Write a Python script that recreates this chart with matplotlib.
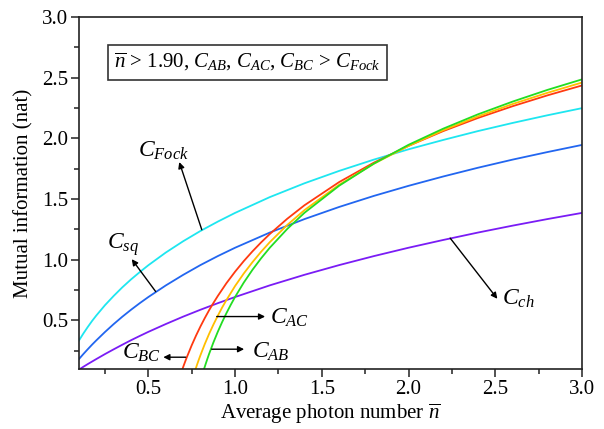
import matplotlib
matplotlib.use("Agg")
import matplotlib.pyplot as plt
from matplotlib.ticker import MultipleLocator

plt.rcParams['font.family'] = ['Liberation Serif', 'DejaVu Serif']
plt.rcParams['mathtext.fontset'] = 'custom'
plt.rcParams['mathtext.rm'] = 'Liberation Serif'
plt.rcParams['mathtext.it'] = 'Liberation Serif:italic'

# average photon number grid for the three two-mode curves
n_grid = [0.1, 0.125, 0.15, 0.175, 0.2, 0.25, 0.3, 0.35, 0.4, 0.45, 0.5, 0.6, 0.7,
          0.8, 0.9, 1.0, 1.2, 1.4, 1.6, 1.8, 2.0, 2.2, 2.4, 2.6, 2.8, 3.0]
c_fock = [0.335, 0.392, 0.445, 0.495, 0.541, 0.626, 0.702, 0.773, 0.838, 0.898,
          0.955, 1.059, 1.152, 1.237, 1.314, 1.386, 1.516, 1.630, 1.732, 1.825,
          1.910, 1.987, 2.060, 2.127, 2.190, 2.249]
c_sq = [0.182, 0.223, 0.262, 0.300, 0.336, 0.405, 0.470, 0.531, 0.588, 0.642,
        0.693, 0.788, 0.875, 0.956, 1.030, 1.099, 1.224, 1.335, 1.435, 1.526,
        1.609, 1.686, 1.758, 1.825, 1.887, 1.946]
c_ch = [0.095, 0.118, 0.140, 0.161, 0.182, 0.223, 0.262, 0.300, 0.337, 0.372,
        0.406, 0.470, 0.531, 0.588, 0.642, 0.693, 0.789, 0.876, 0.956, 1.030,
        1.099, 1.163, 1.224, 1.281, 1.335, 1.386]

# three-mode curves, each one starts near the bottom of the axis
n_bc = [0.69, 0.70, 0.71, 0.72, 0.75, 0.775, 0.80, 0.825, 0.85, 0.875, 0.90, 0.95,
        1.0, 1.05, 1.1, 1.15, 1.2, 1.3, 1.4, 1.6, 1.8, 2.0, 2.2, 2.4, 2.6, 2.8, 3.0]
c_bc = [0.073, 0.114, 0.153, 0.191, 0.296, 0.376, 0.450, 0.519, 0.584, 0.644,
        0.701, 0.807, 0.902, 0.989, 1.069, 1.143, 1.212, 1.337, 1.449, 1.640,
        1.800, 1.938, 2.060, 2.168, 2.265, 2.354, 2.436]
n_ac = [0.76, 0.77, 0.78, 0.79, 0.80, 0.825, 0.85, 0.875, 0.90, 0.925, 0.95,
        1.0, 1.05, 1.1, 1.15, 1.2, 1.3, 1.4, 1.6, 1.8, 2.0, 2.2, 2.4, 2.6, 2.8, 3.0]
c_ac = [0.046, 0.090, 0.133, 0.174, 0.213, 0.305, 0.389, 0.466, 0.538, 0.606,
        0.668, 0.784, 0.887, 0.980, 1.066, 1.145, 1.286, 1.409, 1.618, 1.791,
        1.938, 2.067, 2.181, 2.283, 2.375, 2.460]
n_ab = [0.81, 0.82, 0.83, 0.84, 0.85, 0.875, 0.90, 0.925, 0.95, 0.975,
        1.0, 1.05, 1.1, 1.15, 1.2, 1.3, 1.4, 1.6, 1.8, 2.0, 2.2, 2.4, 2.6, 2.8, 3.0]
c_ab = [0.049, 0.096, 0.140, 0.183, 0.224, 0.319, 0.406, 0.486, 0.560, 0.629,
        0.694, 0.812, 0.917, 1.012, 1.099, 1.253, 1.387, 1.610, 1.792, 1.947,
        2.080, 2.198, 2.303, 2.399, 2.486]

fig = plt.figure(figsize=(6.04, 4.29), dpi=100)
ax = fig.add_axes([0.1308, 0.1399, 0.8328, 0.8205])

lw = 1.3
ax.plot(n_grid, c_fock, color='#1ee6f0', lw=lw)
ax.plot(n_grid, c_sq, color='#2266f0', lw=lw)
ax.plot(n_grid, c_ch, color='#7a1cf5', lw=lw)
ax.plot(n_bc, c_bc, color='#ff3a10', lw=lw)
ax.plot(n_ac, c_ac, color='#ffbf00', lw=lw)
ax.plot(n_ab, c_ab, color='#22dd22', lw=lw)

ax.set_xlim(0.1, 3.0)
ax.set_ylim(0.1, 3.0)
ax.xaxis.set_major_locator(MultipleLocator(0.5))
ax.xaxis.set_minor_locator(MultipleLocator(0.25))
ax.yaxis.set_major_locator(MultipleLocator(0.5))
ax.yaxis.set_minor_locator(MultipleLocator(0.25))
ax.tick_params(which='both', direction='out', top=False, right=False,
               labelsize=15, width=1.1, color='#222222', pad=2)
ax.tick_params(which='major', length=6)
ax.tick_params(which='minor', length=3.5)
for s in ax.spines.values():
    s.set_linewidth(1.2)
    s.set_color('#222222')

ax.set_xlabel(r'Average photon number $\overline{n}$', fontsize=15, labelpad=2)
ax.set_ylabel('Mutual information (nat)', fontsize=15)
ax.yaxis.set_label_coords(-0.091, 0.5)

# curve labels with arrows (the arrow head points at the label)
arrow = dict(arrowstyle='-|>', color='black', lw=1.0, mutation_scale=9,
             shrinkA=0, shrinkB=0)
labels = [
    (r'$C_{Fock}$', (0.44, 1.85), 'left', (0.678, 1.805), (0.808, 1.247)),
    (r'$C_{sq}$', (0.26, 1.09), 'left', (0.404, 1.005), (0.542, 0.738)),
    (r'$C_{ch}$', (2.538, 0.628), 'left', (2.512, 0.678), (2.240, 1.178)),
    (r'$C_{AC}$', (1.20, 0.47), 'left', (1.173, 0.532), (0.894, 0.532)),
    (r'$C_{AB}$', (1.096, 0.191), 'left', (1.052, 0.263), (0.865, 0.263)),
    (r'$C_{BC}$', (0.575, 0.182), 'right', (0.586, 0.197), (0.715, 0.197)),
]
for txt, pos, ha, head, tail in labels:
    ax.text(pos[0], pos[1], txt, fontsize=17, ha=ha, va='baseline')
    ax.annotate('', xy=head, xytext=tail, arrowprops=arrow)

ax.text(0.335, 0.871, r'$\overline{n}$ > 1.90, $C_{AB}$, $C_{AC}$, $C_{BC}$ > $C_{Fock}$',
        transform=ax.transAxes, fontsize=15, ha='center', va='center',
        bbox=dict(boxstyle='square,pad=0.3', fc='white', ec='#333333', lw=1.2))

fig.savefig('out.png', dpi=100)
